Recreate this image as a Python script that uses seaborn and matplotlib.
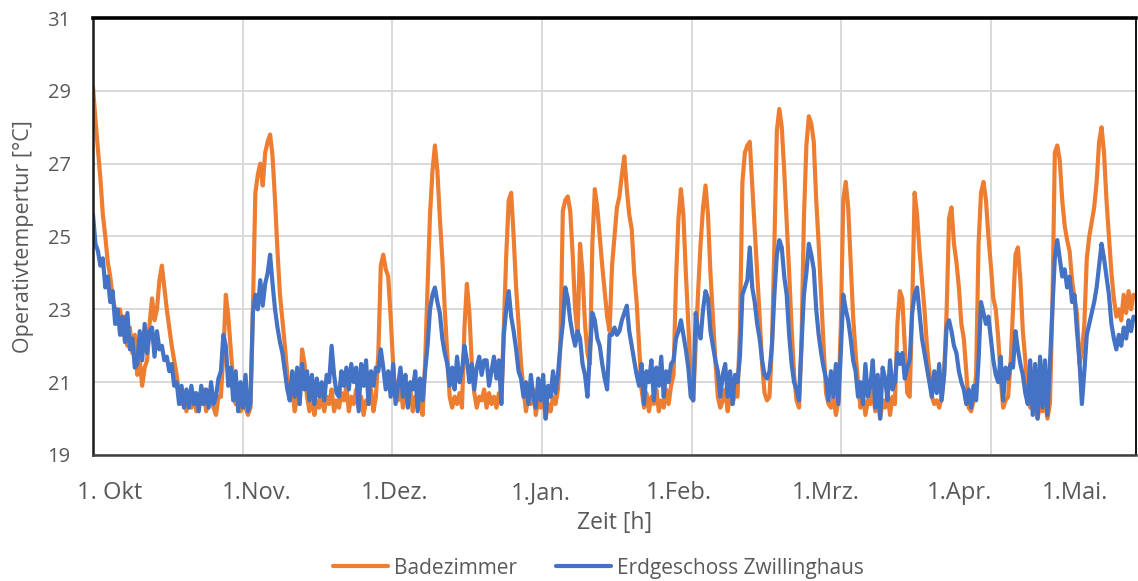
import numpy as np
import pandas as pd
import matplotlib
matplotlib.use("Agg")
import matplotlib.pyplot as plt
import seaborn as sns

# Operative temperature, one reading every 12 hours starting 1 October
step_hours = 12

badezimmer = [
    29.1, 28.2, 27.4, 26.6, 25.6, 25.0, 24.3, 23.9, 23.3, 23.0, 22.6, 23.0, 22.3, 22.8, 22.0, 22.5, 21.8, 22.3, 21.2, 21.6,
    20.9, 21.4, 21.6, 22.6, 23.3, 22.7, 23.0, 23.8, 24.2, 23.6, 23.0, 22.5, 22.0, 21.6, 21.2, 20.7, 20.4, 20.7, 20.2, 20.6,
    20.3, 20.7, 20.2, 20.5, 20.4, 20.8, 20.2, 20.6, 20.5, 20.3, 20.1, 20.6, 20.6, 21.8, 23.4, 22.8, 21.9, 21.0, 20.4, 20.8,
    20.2, 20.6, 20.3, 20.1, 20.3, 23.0, 26.2, 26.7, 27.0, 26.4, 27.3, 27.6, 27.8, 27.2, 26.0, 24.6, 23.4, 22.7, 22.0, 21.2,
    20.5, 20.8, 20.2, 20.6, 20.4, 21.9, 21.5, 20.6, 20.2, 20.7, 20.1, 20.5, 20.3, 20.7, 20.2, 20.6, 20.4, 20.8, 20.2, 20.5,
    20.3, 20.7, 20.5, 20.9, 20.2, 20.6, 20.4, 20.8, 20.3, 20.6, 20.1, 20.5, 20.4, 20.8, 20.2, 20.6, 21.8, 24.2, 24.5, 24.1,
    23.9, 22.8, 21.5, 20.6, 20.5, 20.9, 20.3, 20.7, 20.4, 20.8, 20.2, 20.6, 20.3, 20.7, 20.1, 21.5, 23.6, 25.6, 26.8, 27.5,
    26.8, 25.5, 24.4, 23.0, 21.8, 20.6, 20.3, 20.6, 20.4, 20.7, 20.3, 22.5, 23.7, 22.9, 21.5, 20.7, 20.3, 20.6, 20.5, 20.8,
    20.3, 20.7, 20.4, 20.6, 20.3, 20.7, 20.5, 22.5, 24.5, 26.0, 26.2, 25.0, 23.6, 22.6, 21.5, 20.8, 20.2, 20.6, 20.4, 20.8,
    20.1, 20.5, 20.3, 20.7, 20.0, 20.4, 20.2, 20.6, 20.4, 20.8, 22.0, 25.7, 26.0, 26.1, 25.7, 24.5, 23.0, 22.3, 24.8, 24.0,
    22.6, 21.8, 21.5, 24.8, 26.3, 25.8, 25.0, 24.2, 23.5, 22.8, 22.4, 24.2, 25.0, 25.8, 26.1, 26.7, 27.2, 26.3, 25.6, 25.2,
    24.0, 23.2, 22.0, 20.8, 20.3, 20.7, 20.2, 20.6, 20.4, 20.8, 20.2, 20.5, 20.3, 20.8, 20.4, 20.9, 21.2, 23.8, 25.5, 26.3,
    25.6, 24.0, 22.6, 21.2, 20.5, 22.0, 23.5, 24.8, 25.8, 26.4, 25.6, 24.0, 22.8, 21.6, 20.6, 20.3, 20.5, 20.8, 20.2, 20.6,
    20.4, 20.7, 20.6, 22.5, 26.5, 27.3, 27.5, 27.6, 26.4, 25.2, 24.0, 22.8, 21.5, 20.7, 20.5, 20.6, 22.0, 24.8, 27.9, 28.5,
    28.0, 26.8, 25.4, 24.0, 22.5, 21.2, 20.5, 20.3, 22.0, 25.5, 27.5, 28.3, 28.1, 27.6, 26.0, 24.8, 23.4, 22.0, 20.7, 20.4,
    20.3, 20.6, 20.1, 20.5, 22.5, 26.0, 26.5, 25.8, 24.3, 22.8, 21.8, 21.0, 20.3, 20.6, 20.1, 20.5, 20.4, 20.8, 20.2, 20.6,
    20.0, 20.5, 20.3, 20.7, 20.1, 20.6, 20.4, 22.6, 23.5, 23.3, 22.0, 20.7, 20.6, 23.0, 26.2, 25.6, 24.6, 23.8, 23.0, 22.0,
    21.3, 20.6, 20.4, 20.5, 20.3, 20.6, 21.2, 22.9, 25.5, 25.8, 24.8, 24.3, 23.6, 22.6, 22.2, 21.3, 20.3, 20.2, 20.5, 21.2,
    24.8, 26.2, 26.5, 26.0, 25.0, 24.2, 23.3, 23.0, 22.2, 21.1, 20.3, 20.5, 20.6, 21.5, 23.0, 24.5, 24.7, 23.8, 22.4, 21.6,
    20.6, 20.3, 20.6, 20.2, 20.0, 20.4, 20.2, 20.5, 20.0, 20.4, 23.0, 27.3, 27.5, 27.1, 26.0, 25.3, 24.9, 24.6, 23.8, 23.3,
    22.9, 21.5, 21.8, 22.6, 24.4, 25.0, 25.4, 25.8, 26.5, 27.6, 28.0, 27.3, 26.0, 25.0, 24.0, 23.3, 22.8, 23.0, 22.7, 23.4,
    22.9, 23.5, 23.0, 23.4,
]

erdgeschoss = [
    25.6, 24.8, 24.6, 24.2, 24.4, 23.6, 23.9, 23.2, 23.5, 22.6, 23.0, 22.3, 22.8, 22.1, 22.9, 21.9, 22.2, 21.4, 21.5, 22.4,
    21.6, 22.6, 21.8, 22.4, 22.5, 21.7, 22.4, 21.9, 22.0, 21.6, 21.7, 21.3, 21.5, 20.9, 21.0, 20.4, 20.9, 20.3, 20.8, 20.3,
    20.9, 20.4, 20.7, 20.2, 20.9, 20.4, 20.8, 20.3, 21.0, 20.4, 20.6, 21.1, 21.3, 22.3, 22.0, 20.9, 21.4, 20.5, 21.3, 20.2,
    21.0, 20.3, 21.2, 20.2, 20.4, 22.9, 23.4, 23.0, 23.8, 23.1, 23.7, 24.0, 24.5, 23.7, 23.0, 22.5, 22.1, 21.8, 21.3, 20.8,
    20.5, 21.3, 20.6, 21.4, 20.4, 21.5, 20.8, 21.3, 20.5, 21.2, 20.4, 21.1, 20.6, 21.0, 20.5, 21.2, 21.0, 22.0, 21.2, 20.7,
    20.6, 21.3, 20.9, 21.4, 20.8, 21.5, 21.0, 21.4, 20.2, 21.5, 20.9, 21.6, 20.4, 21.3, 20.9, 21.4, 21.3, 21.9, 21.4, 20.8,
    21.3, 20.6, 21.5, 20.4, 20.9, 21.4, 20.6, 21.2, 20.3, 21.0, 20.8, 21.3, 20.2, 21.1, 20.5, 21.3, 22.0, 23.0, 23.4, 23.6,
    23.2, 22.9, 22.2, 21.8, 21.5, 20.9, 21.4, 20.8, 21.7, 21.0, 21.3, 22.0, 21.6, 21.0, 21.5, 20.8, 21.4, 21.7, 21.2, 21.6,
    21.6, 20.9, 21.3, 21.7, 21.1, 21.6, 20.4, 22.3, 23.0, 23.5, 22.8, 22.4, 21.9, 21.3, 21.1, 20.6, 21.0, 20.4, 21.2, 20.6,
    20.3, 21.1, 20.5, 21.2, 20.0, 20.9, 20.6, 21.3, 20.7, 21.2, 22.0, 22.6, 23.6, 23.3, 22.7, 22.3, 22.0, 22.4, 22.2, 21.5,
    21.2, 20.6, 21.8, 22.9, 22.7, 22.2, 22.0, 21.5, 21.1, 20.8, 22.3, 22.3, 22.5, 22.3, 22.4, 22.7, 22.9, 23.1, 22.4, 22.0,
    21.6, 21.2, 20.9, 21.5, 20.4, 21.3, 21.0, 21.6, 20.5, 21.4, 20.9, 21.7, 20.6, 21.3, 21.0, 21.5, 21.6, 22.2, 22.4, 22.7,
    22.3, 21.9, 21.4, 20.6, 20.5, 22.9, 22.4, 22.2, 23.0, 23.5, 23.3, 22.4, 22.0, 21.6, 21.3, 20.6, 21.2, 21.5, 20.6, 21.3,
    20.4, 21.2, 21.0, 21.7, 23.4, 23.6, 23.8, 24.7, 23.6, 23.2, 22.6, 22.2, 21.6, 21.2, 21.1, 21.3, 22.0, 23.4, 24.5, 24.9,
    24.7, 23.9, 23.4, 22.3, 21.5, 21.0, 20.8, 20.5, 22.0, 23.4, 24.0, 24.8, 24.5, 24.1, 23.0, 22.3, 21.8, 21.4, 21.1, 20.5,
    21.3, 20.6, 21.5, 20.4, 21.8, 23.4, 23.0, 22.7, 22.2, 21.6, 21.3, 20.6, 21.0, 20.4, 21.5, 20.6, 20.9, 21.6, 20.3, 21.2,
    20.0, 21.4, 21.1, 20.5, 21.6, 20.8, 21.0, 21.8, 21.5, 21.8, 21.1, 21.4, 21.6, 22.9, 23.4, 23.6, 22.9, 22.2, 21.8, 21.4,
    21.0, 20.6, 21.3, 20.7, 21.5, 20.5, 21.2, 22.5, 22.7, 22.4, 22.0, 21.8, 21.3, 21.0, 20.8, 20.4, 20.8, 20.3, 20.9, 20.5,
    21.6, 23.2, 22.9, 22.6, 22.8, 22.2, 21.6, 21.2, 21.0, 21.7, 20.5, 21.4, 21.1, 21.5, 21.4, 22.4, 21.9, 21.5, 21.2, 20.7,
    20.4, 21.6, 20.1, 21.5, 20.0, 21.7, 20.3, 21.6, 20.1, 21.5, 23.0, 24.4, 24.9, 24.4, 23.9, 24.1, 23.6, 23.9, 23.2, 23.4,
    22.4, 21.6, 20.4, 21.3, 22.3, 22.6, 22.9, 23.2, 23.6, 24.2, 24.8, 24.4, 23.9, 23.4, 22.6, 22.2, 21.9, 22.3, 22.0, 22.5,
    22.2, 22.7, 22.4, 22.8,
]

series_names = ["Badezimmer", "Erdgeschoss Zwillinghaus"]
series_colors = ["#ED7D31", "#4472C4"]

month_labels = ["1. Okt", "1.Nov.", "1.Dez.", "1.Jan.", "1.Feb.", "1.Mrz.", "1.Apr.", "1.Mai."]
month_label_hours = [83, 798, 1470, 2185, 2857, 3577, 4229, 4789]

grid_step_hours = 730
x_max_hours = 5088
y_ticks = [19, 21, 23, 25, 27, 29, 31]

hours = np.arange(len(badezimmer)) * step_hours
df = pd.concat([
    pd.DataFrame({"Zeit": hours, "Temperatur": badezimmer, "Raum": series_names[0]}),
    pd.DataFrame({"Zeit": hours, "Temperatur": erdgeschoss, "Raum": series_names[1]}),
], ignore_index=True)

sns.set_style("white")
plt.rcParams["font.family"] = ["Open Sans", "DejaVu Sans"]

text_color = "#595959"
fig = plt.figure(figsize=(11.38, 5.81), dpi=100)
ax = fig.add_axes([93 / 1138, 1 - 455 / 581, (1136 - 93) / 1138, (455 - 18) / 581])

sns.lineplot(data=df, x="Zeit", y="Temperatur", hue="Raum", hue_order=series_names,
             palette=series_colors, estimator=None, sort=False, linewidth=3.0, ax=ax)

ax.set_xlim(0, x_max_hours)
ax.set_ylim(19, 31)

ax.set_xticks(np.arange(0, x_max_hours, grid_step_hours))
ax.set_xticks(month_label_hours, month_labels, minor=True)
ax.set_yticks(y_ticks)
ax.grid(which="major", color="#d9d9d9", linewidth=1.4)
ax.grid(which="minor", visible=False)
ax.set_axisbelow(True)

ax.tick_params(axis="x", which="major", length=0, labelbottom=False)
ax.tick_params(axis="x", which="minor", length=0, pad=19, labelsize=17, labelcolor=text_color)
ax.tick_params(axis="y", length=0, pad=16, labelsize=14.5, labelcolor=text_color)

ax.set_xlabel("Zeit [h]", fontsize=16.5, color=text_color, labelpad=4)
ax.set_ylabel("Operativtempertur [°C]", fontsize=15.5, color=text_color, labelpad=10)

for side, lw, col in [("top", 2.6, "black"), ("left", 1.8, "#1a1a1a"),
                      ("bottom", 1.8, "#404040"), ("right", 1.3, "black")]:
    ax.spines[side].set_visible(True)
    ax.spines[side].set_linewidth(lw)
    ax.spines[side].set_color(col)

handles, labels = ax.get_legend_handles_labels()
ax.legend_.remove()
fig.legend(handles, labels, loc="center", bbox_to_anchor=(0.526, 0.022), ncol=2,
           frameon=False, fontsize=15, handlelength=2.6, handletextpad=0.3,
           columnspacing=1.9, labelcolor=text_color)

fig.savefig("out.png", dpi=100)
